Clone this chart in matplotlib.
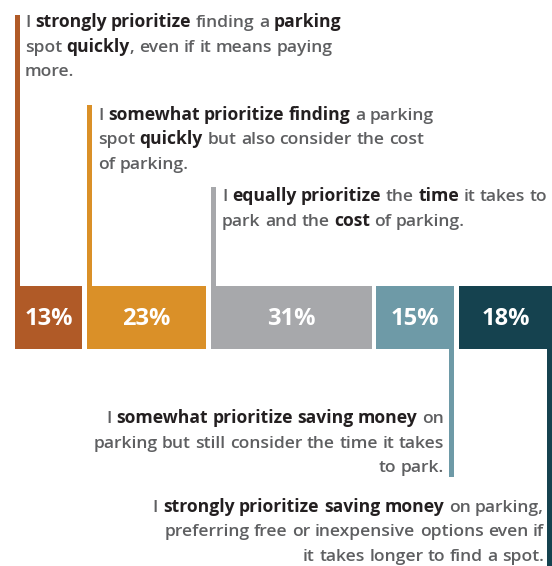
import numpy as np
import matplotlib
matplotlib.use("Agg")
import matplotlib.pyplot as plt
import matplotlib.transforms as mtransforms

# share of respondents per priority level
shares = [13, 23, 31, 15, 18]
share_labels = ["13%", "23%", "31%", "15%", "18%"]
colors = ["#B05A27", "#DA9028", "#A7A8AB", "#6E9AA7", "#15424F"]

# statements, bold parts marked with **
statements = [
    ["I **strongly prioritize** finding a **parking**",
     "spot **quickly**, even if it means paying",
     "more."],
    ["I **somewhat prioritize finding** a parking",
     "spot **quickly** but also consider the cost",
     "of parking."],
    ["I **equally prioritize** the **time** it takes to",
     "park and the **cost** of parking."],
    ["I **somewhat prioritize saving money** on",
     "parking but still consider the time it takes",
     "to park."],
    ["I **strongly prioritize saving money** on parking,",
     "preferring free or inexpensive options even if",
     "it takes longer to find a spot."],
]

W, H, DPI = 552, 566, 100
plt.rcParams["font.family"] = ["Open Sans", "DejaVu Sans"]

fig = plt.figure(figsize=(W / DPI, H / DPI), dpi=DPI)
ax = fig.add_axes([0, 0, 1, 1])
ax.set_axis_off()

# horizontal layout: px per percent point and gaps between segments
x_left, x_right = 15, 552
gap_px = 4.8
scale = (x_right - x_left - gap_px * (len(shares) - 1)) / sum(shares)
gap = gap_px / scale
ax.set_xlim(-x_left / scale, (W - x_left) / scale)
ax.set_ylim(H, 0)  # y in pixel rows from the top

vals = np.array(shares, dtype=float)
lefts = np.concatenate([[0], np.cumsum(vals)[:-1]]) + gap * np.arange(len(vals))
bar_top, bar_bot = 286, 349
ax.barh((bar_top + bar_bot) / 2, vals, left=lefts, height=bar_bot - bar_top,
        color=colors, linewidth=0)

for l, v, lab in zip(lefts, vals, share_labels):
    ax.text(l + v / 2, 325, lab, ha="center", va="baseline", color="white",
            fontsize=17, fontweight="bold")

# leader lines: above the bar on the left edge, below it on the right edge
line_w = 4.8 / scale
tops = [15, 105, 187]
bottoms = [477, H + 5]
for i, top in enumerate(tops):
    ax.bar(lefts[i], bar_top - top, width=line_w, bottom=top, align="edge",
           color=colors[i], linewidth=0)
for j, bot in enumerate(bottoms):
    i = len(tops) + j
    ax.bar(lefts[i] + vals[i] - line_w, bot - bar_bot, width=line_w,
           bottom=bar_bot, align="edge", color=colors[i], linewidth=0)

# rich text with mixed weights, positioned in figure pixels from the top
px = mtransforms.Affine2D().scale(1 / DPI, -1 / DPI).translate(0, H / DPI) + fig.dpi_scale_trans
renderer = fig.canvas.get_renderer()
FS = 12.6
C_NORMAL, C_BOLD = "#5E5F61", "#231F20"
W_NORMAL = "semibold"


def width_of(s, bold):
    t = fig.text(0, 0, s, fontsize=FS, fontweight="bold" if bold else W_NORMAL)
    w = t.get_window_extent(renderer).width
    t.remove()
    return w


space_w = {b: width_of("n n", b) - width_of("nn", b) for b in (False, True)}


def pieces_of(line):
    out, pending = [], False
    for k, run in enumerate(line.split("**")):
        bold = k % 2 == 1
        for j, w in enumerate(run.split(" ")):
            if j > 0:
                pending = True
            if w:
                out.append((w, bold, pending))
                pending = False
    return out


def draw_line(line, x, y, align):
    pieces = pieces_of(line)
    widths = [width_of(w, b) for w, b, _ in pieces]
    xs, cur = [], 0.0
    for (w, b, sp), wd in zip(pieces, widths):
        if sp and xs:
            cur += space_w[False]
        xs.append(cur)
        cur += wd
    start = x if align == "left" else x - cur
    for (w, b, sp), xo in zip(pieces, xs):
        fig.text(start + xo, y, w, transform=px, ha="left", va="baseline",
                 fontsize=FS, fontweight="bold" if b else W_NORMAL,
                 color=C_BOLD if b else C_NORMAL)


anchors = [(25, 27, "left"), (98, 120, "left"), (222, 201, "left"),
           (444, 423, "right"), (544, 512, "right")]
line_h = 24.5
for block, (ax_x, ax_y, align) in zip(statements, anchors):
    for n, line in enumerate(block):
        draw_line(line, ax_x, ax_y + n * line_h, align)

fig.savefig("out.png", dpi=DPI)
